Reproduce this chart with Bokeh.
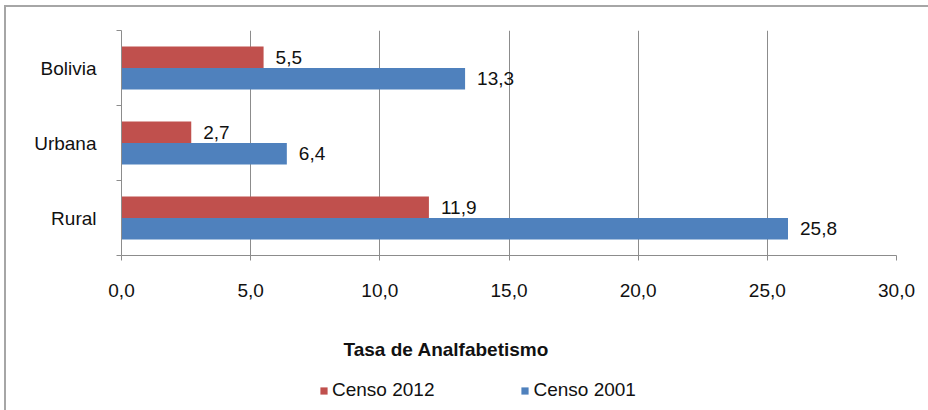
from bokeh.plotting import figure
from bokeh.models import (ColumnDataSource, Range1d, FixedTicker, Legend, LegendItem, Label)
from bokeh.layouts import column
from bokeh.core.properties import value
from bokeh.embed import file_html
from bokeh.resources import INLINE

categories = ["Bolivia", "Urbana", "Rural"]
censo_2012 = [5.5, 2.7, 11.9]
censo_2001 = [13.3, 6.4, 25.8]
series_names = ["Censo 2012", "Censo 2001"]
x_ticks = [0, 5, 10, 15, 20, 25, 30]
x_tick_labels = ["0,0", "5,0", "10,0", "15,0", "20,0", "25,0", "30,0"]
axis_title = "Tasa de Analfabetismo"

RED = "#C0504D"
BLUE = "#4F81BD"
GRID = "#8c8c8c"
TXT = "#111111"
FONT = "Liberation Sans"

n = len(categories)
centers = [n - i - 0.5 for i in range(n)]
off = 0.143
bh = 0.287

def fmt(v):
    return f"{v:.1f}".replace(".", ",")

src12 = ColumnDataSource(dict(y=[c + off for c in centers], v=censo_2012,
                              lab=[fmt(v) for v in censo_2012]))
src01 = ColumnDataSource(dict(y=[c - off for c in centers], v=censo_2001,
                              lab=[fmt(v) for v in censo_2001]))

# ---------------- main chart ----------------
p = figure(frame_width=775, frame_height=225, output_backend="svg", toolbar_location=None,
           x_range=Range1d(0, 30), y_range=Range1d(0, n),
           min_border_left=115, min_border_right=32, min_border_top=23,
           min_border_bottom=60)
p.outline_line_color = None
p.background_fill_color = "white"

r12 = p.hbar(y="y", right="v", left=0, height=bh, source=src12, fill_color=RED, line_color=None)
r01 = p.hbar(y="y", right="v", left=0, height=bh, source=src01, fill_color=BLUE, line_color=None)

for s in (src12, src01):
    p.text(x="v", y="y", text="lab", source=s, x_offset=12, text_baseline="middle",
           text_align="left", text_font=value(FONT), text_font_size="19px", text_color=TXT)

xa = p.xaxis[0]
xa.ticker = FixedTicker(ticks=x_ticks)
xa.major_label_overrides = {t: l for t, l in zip(x_ticks, x_tick_labels)}
xa.axis_line_color = GRID
xa.major_tick_line_color = GRID
xa.major_tick_in = 0
xa.major_tick_out = 5
xa.minor_tick_line_color = None
xa.major_label_standoff = 23
xa.major_label_text_font = FONT
xa.major_label_text_font_size = "19px"
xa.major_label_text_color = TXT

ya = p.yaxis[0]
ya.ticker = FixedTicker(ticks=centers, minor_ticks=list(range(n + 1)))
ya.major_label_overrides = {c: cat for c, cat in zip(centers, categories)}
ya.axis_line_color = GRID
ya.major_tick_line_color = None
ya.major_tick_in = 0
ya.major_tick_out = 5
ya.minor_tick_line_color = GRID
ya.minor_tick_in = 0
ya.minor_tick_out = 5
ya.major_label_standoff = 20
ya.major_label_text_font = FONT
ya.major_label_text_font_size = "19px"
ya.major_label_text_color = TXT

p.xgrid.ticker = FixedTicker(ticks=x_ticks)
p.xgrid.grid_line_color = GRID
p.ygrid.grid_line_color = None

# ---------------- axis title + legend strip (pixel coordinates) ----------------
W2, H2 = 922, 95
q = figure(frame_width=W2, frame_height=H2, output_backend="svg", toolbar_location=None,
           x_range=Range1d(0, W2), y_range=Range1d(0, H2),
           x_axis_location=None, y_axis_location=None,
           min_border_left=0, min_border_right=0, min_border_top=0, min_border_bottom=0)
q.outline_line_color = None
q.xgrid.grid_line_color = None
q.ygrid.grid_line_color = None

q.add_layout(Label(x=222, y=61, text=axis_title, text_baseline="middle", text_align="left",
                   text_font=FONT, text_font_size="19px", text_font_style="bold",
                   text_color=TXT))

# legend swatches: hidden bars placed below the strip's visible range
e12 = q.hbar(y=[-H2], right=[censo_2012[0]], left=0, height=1, fill_color=RED, line_color=None)
e01 = q.hbar(y=[-H2], right=[censo_2001[0]], left=0, height=1, fill_color=BLUE, line_color=None)
legend = Legend(items=[LegendItem(label=series_names[0], renderers=[e12]),
                       LegendItem(label=series_names[1], renderers=[e01])],
                orientation="horizontal", location=(313, 9), glyph_width=9, glyph_height=9,
                label_standoff=4, spacing=86, padding=0, margin=0,
                label_text_font=FONT, label_text_font_size="19px", label_text_color=TXT,
                border_line_color=None, background_fill_alpha=0)
q.add_layout(legend, "center")

layout = column(p, q, spacing=0,
                styles={"border-left": "2px solid #a6a6a6", "border-top": "2px solid #a6a6a6",
                        "margin-left": "4px", "margin-top": "5px"})

open("out.html", "w").write(file_html(layout, INLINE))
